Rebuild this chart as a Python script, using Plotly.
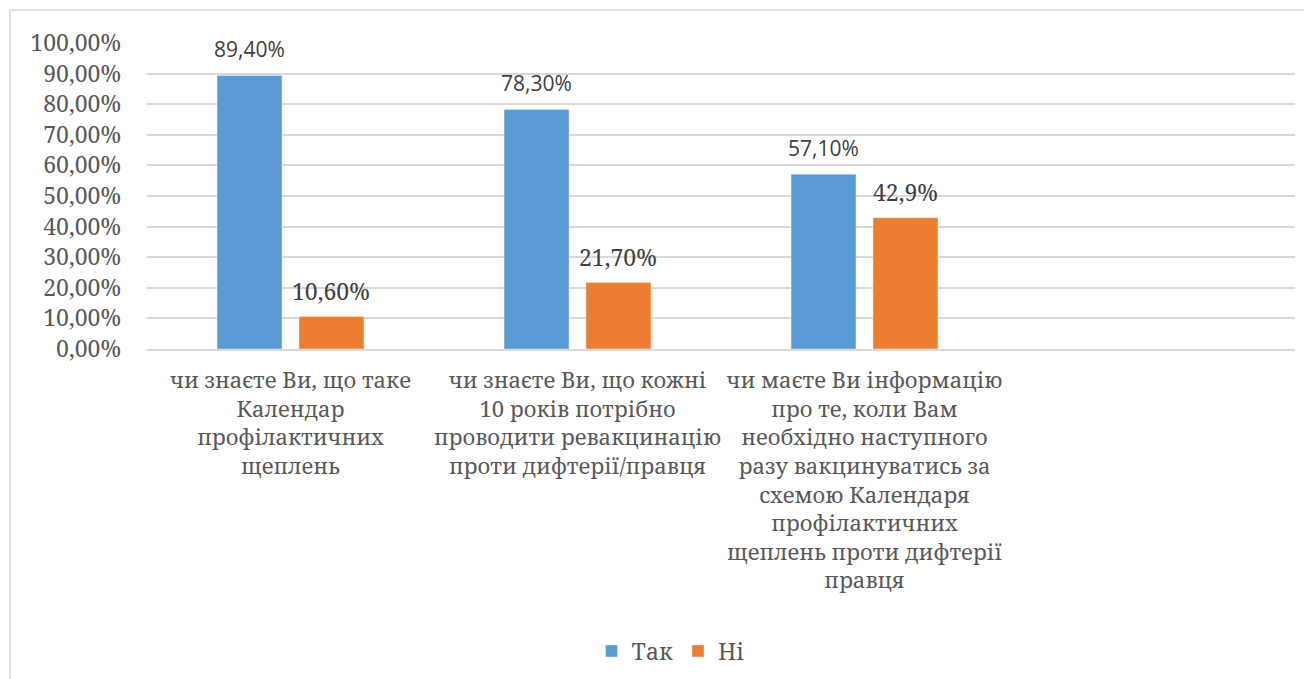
import plotly.graph_objects as go

categories = [
    "чи знаєте Ви, що таке<br>Календар<br>профілактичних<br>щеплень",
    "чи знаєте Ви, що кожні<br>10 років потрібно<br>проводити ревакцинацію<br>проти дифтерії/правця",
    "чи маєте Ви інформацію<br>про те, коли Вам<br>необхідно наступного<br>разу вакцинуватись за<br>схемою Календаря<br>профілактичних<br>щеплень проти дифтерії<br>правця",
    " ",
]
tak_values = [0.894, 0.783, 0.571, None]
ni_values = [0.106, 0.217, 0.429, None]
tak_labels = ["89,40%", "78,30%", "57,10%"]
ni_labels = ["10,60%", "21,70%", "42,9%"]
y_ticks = [0, 0.1, 0.2, 0.3, 0.4, 0.5, 0.6, 0.7, 0.8, 0.9, 1.0]

SERIF = "Noto Serif"
SANS = "Open Sans"

# page body has 8px margin; layout numbers are in figure coordinates
W, H = 1312, 679
L, R, T, B = 139, 25, 35, 338
BARGAP, GROUPGAP = 0.429, 0.207

fig = go.Figure()
fig.add_trace(go.Bar(name="Так", x=categories, y=tak_values, marker_color="#5B9BD5"))
fig.add_trace(go.Bar(name="Ні", x=categories, y=ni_values, marker_color="#ED7D31"))

cat_w = (W - L - R) / len(categories)
slot = cat_w * (1 - BARGAP) / 2
annotations = []
for i, (v, t) in enumerate(zip(tak_values[:3], tak_labels)):
    annotations.append(dict(x=categories[i], y=v, text=t, showarrow=False,
                            xanchor="center", yanchor="bottom", yshift=10,
                            xshift=-slot / 2,
                            font=dict(family=SANS, size=21, color="#404040")))
for i, (v, t) in enumerate(zip(ni_values[:3], ni_labels)):
    annotations.append(dict(x=categories[i], y=v, text=t, showarrow=False,
                            xanchor="center", yanchor="bottom", yshift=8,
                            xshift=slot / 2,
                            font=dict(family=SERIF, size=23, color="#404040")))

fig.update_layout(
    width=W, height=H,
    margin=dict(l=L, r=R, t=T, b=B),
    paper_bgcolor="white", plot_bgcolor="white",
    barmode="group", bargap=BARGAP, bargroupgap=GROUPGAP,
    separators=", ",
    font=dict(family=SERIF, size=22, color="#595959"),
    showlegend=True,
    legend=dict(orientation="h", xref="container", yref="container",
                x=0.505, y=0.053, xanchor="center", yanchor="middle",
                font=dict(family=SERIF, size=23, color="#595959"),
                itemwidth=30, traceorder="normal"),
    xaxis=dict(type="category", showgrid=False, showline=True, linecolor="#D9D9D9",
               linewidth=1.5, ticks="", tickfont=dict(family=SERIF, size=22, color="#595959"),
               tickangle=0, ticklabelstandoff=11),
    yaxis=dict(range=[0, 1.0], tickvals=y_ticks, tickformat=".2%", showgrid=True,
               gridcolor="#D9D9D9", gridwidth=1.5, zeroline=False, showline=False,
               tickfont=dict(family=SERIF, size=23, color="#595959"),
               ticklabelstandoff=25),
    annotations=annotations,
    shapes=[dict(type="rect", xref="paper", yref="paper",
                 x0=(2 - L) / (W - L - R), x1=1.2, y0=-2,
                 y1=1 + (T - 2) / (H - T - B),
                 line=dict(color="#D9D9D9", width=1.5), fillcolor="rgba(0,0,0,0)",
                 layer="below")],
)

fig.write_html("out.html")
